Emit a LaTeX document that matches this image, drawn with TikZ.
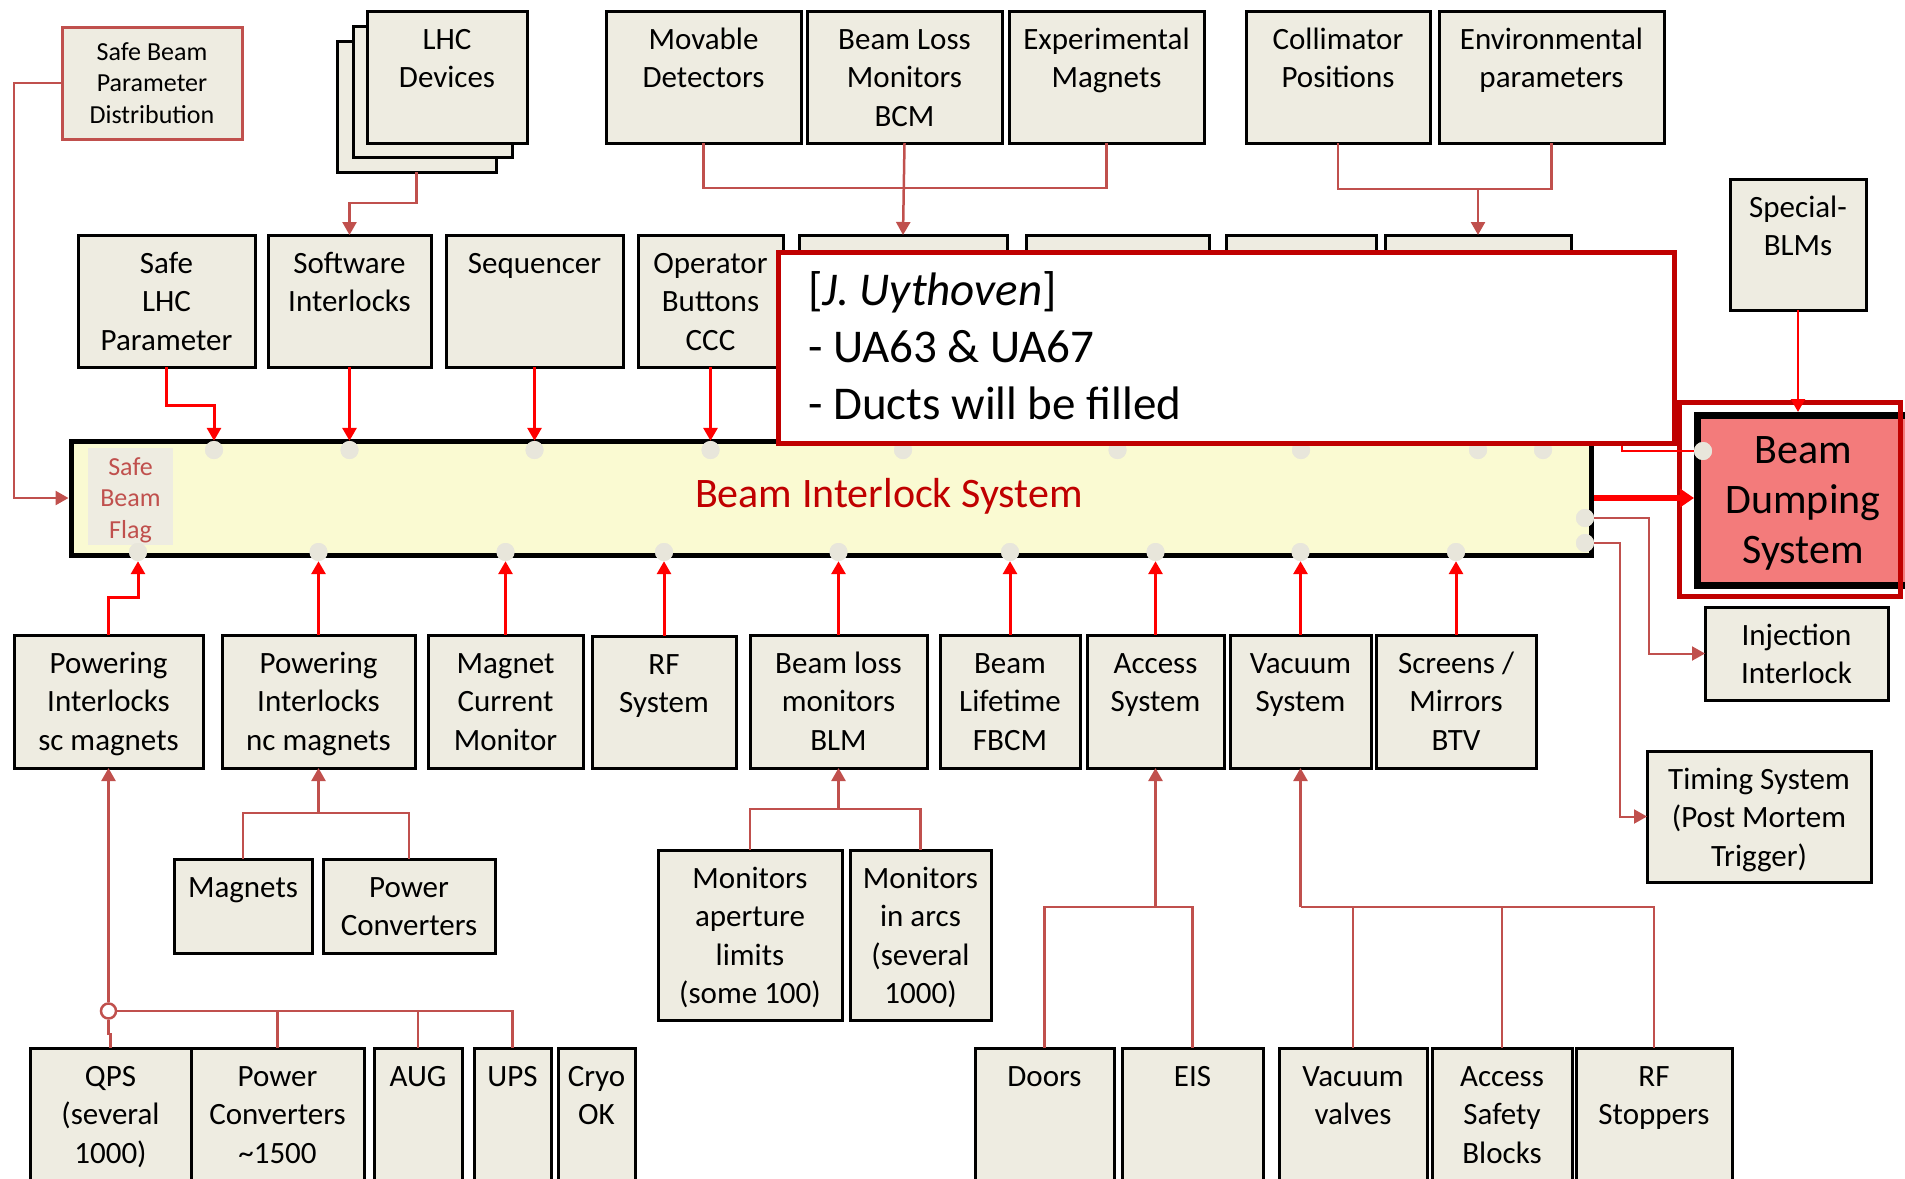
\documentclass[tikz,border=0pt]{standalone}
\usepackage{fontspec}
\setmainfont{Carlito}
\usetikzlibrary{arrows.meta,fit,calc}

\definecolor{boxfill}{HTML}{EEECE1}
\definecolor{linkred}{HTML}{C0504D}
\definecolor{hotred}{HTML}{FF0000}
\definecolor{darkred}{HTML}{C00000}
\definecolor{bisfill}{HTML}{FAFAD2}
\definecolor{bdsfill}{HTML}{F37B7B}
\definecolor{portgrey}{HTML}{E8E6DB}

\tikzset{
  blk/.style={draw=black, line width=3pt, fill=boxfill, inner sep=0pt, outer sep=0pt},
  lbl/.style={font=\fontsize{31}{38.5}\selectfont, align=center, anchor=north, inner sep=0pt},
  feed/.style={draw=linkred, line width=2.5pt},
  feedar/.style={feed, -{Triangle[length=13pt,width=14pt]}},
  sig/.style={draw=hotred, line width=3pt, -{Triangle[length=13pt,width=14pt]}},
  port/.style={circle, fill=portgrey, inner sep=0pt, minimum size=18pt},
}

% a filled block spanning (x1,y1)-(x2,y2) with its text set from the top
\newcommand\blockbox[7][]{%
  \node[blk, fit={(#3,#4)(#5,#6)}] (#2) {};
  \node[lbl,#1] at ([yshift=-11pt]#2.north) {\strut #7};}

\begin{document}
\begin{tikzpicture}[x=1pt, y=-1pt]
\useasboundingbox (0,0) rectangle (1905,1178);
\clip (0,0) rectangle (1905,1178);

% ---------- top row: information sources ----------
\node[blk, draw=linkred, fit={(62,27)(242,139)}] (sbpd) {};
\node[lbl, font=\fontsize{26}{31.5}\selectfont] at ([yshift=-11pt]sbpd.north)
  {\strut Safe Beam\\Parameter\\Distribution};

\node[blk, fit={(337,41)(496,172)}] (lhcc) {};
\node[blk, fit={(353,26)(512,157)}] (lhcb) {};
\blockbox{lhc}{367}{11}{527}{143}{LHC\\Devices}

\blockbox{movd}{606}{11}{801}{143}{Movable\\Detectors}
\blockbox{bcm}{807}{11}{1002}{143}{Beam Loss\\Monitors\\BCM}
\blockbox{expm}{1009}{11}{1204}{143}{Experimental\\Magnets}
\blockbox{coll}{1246}{11}{1430}{143}{Collimator\\Positions}
\blockbox{env}{1439}{11}{1664}{143}{Environmental\\parameters}

% ---------- second row: user systems above the BIS ----------
\blockbox{slp}{78}{235}{255}{367}{Safe\\LHC\\Parameter}
\blockbox{swi}{268}{235}{431}{367}{Software\\Interlocks}
\blockbox{seq}{446}{235}{623}{367}{Sequencer}
\blockbox{opb}{638}{235}{783}{367}{Operator\\Buttons\\CCC}
\node[blk, fit={(799,235)(1007,367)}] (hida) {};
\node[blk, fit={(1026,235)(1209,367)}] (hidb) {};
\node[blk, fit={(1226,235)(1376,367)}] (hidc) {};
\node[blk, fit={(1385,235)(1571,367)}] (hidd) {};
\blockbox{sblm}{1730}{179}{1866}{310}{Special-\\BLMs}

% ---------- third row: user systems below the BIS ----------
\blockbox{pisc}{14}{635}{203}{768}{Powering\\Interlocks\\sc magnets}
\blockbox{pinc}{222}{635}{415}{768}{Powering\\Interlocks\\nc magnets}
\blockbox{mcm}{428}{635}{583}{768}{Magnet\\Current\\Monitor}
\blockbox{rfs}{592}{636}{736}{768}{RF\\System}
\blockbox{blm}{750}{635}{927}{768}{Beam loss\\monitors\\BLM}
\blockbox{fbcm}{940}{635}{1080}{768}{Beam\\Lifetime\\FBCM}
\blockbox{acc}{1087}{635}{1224}{768}{Access\\System}
\blockbox{vac}{1230}{635}{1371}{768}{Vacuum\\System}
\blockbox{scr}{1376}{635}{1536}{768}{Screens /\\Mirrors\\BTV}

\blockbox{inj}{1705}{607}{1888}{700}{Injection\\Interlock}
\blockbox{tim}{1647}{751}{1871}{882}{Timing System\\(Post Mortem\\Trigger)}

% ---------- lower rows: contributing equipment ----------
\blockbox{mag}{174}{859}{312}{953}{Magnets}
\blockbox{pcv}{323}{859}{495}{953}{Power\\Converters}
\blockbox{mal}{658}{850}{842}{1020}{Monitors\\aperture\\limits\\(some 100)}
\blockbox{mia}{850}{850}{991}{1020}{Monitors\\in arcs\\(several\\1000)}

\blockbox{qps}{30}{1048}{191}{1200}{QPS\\(several\\1000)}
\blockbox{pc15}{191}{1048}{364}{1200}{Power\\Converters\\\textasciitilde1500}
\blockbox{aug}{374}{1048}{462}{1200}{AUG}
\blockbox{ups}{474}{1048}{551}{1200}{UPS}
\blockbox{cryo}{558}{1048}{635}{1200}{Cryo\\OK}
\blockbox{doors}{975}{1048}{1114}{1200}{Doors}
\blockbox{eis}{1122}{1048}{1263}{1200}{EIS}
\blockbox{vv}{1279}{1048}{1427}{1200}{Vacuum\\valves}
\blockbox{asb}{1432}{1048}{1572}{1200}{Access\\Safety\\Blocks}
\blockbox{rfst}{1576}{1048}{1732}{1200}{RF\\Stoppers}

% ---------- Beam Interlock System ----------
\node[draw=black, line width=5pt, fill=bisfill, inner sep=0pt, fit={(71,441)(1591,555)}] (bis) {};
\node[fill=boxfill, inner sep=0pt, fit={(88,448)(173,545)}] (sbf) {};
\node[lbl, font=\fontsize{26}{31.5}\selectfont, text=linkred] at ([yshift=-5pt]sbf.north)
  {\strut Safe\\Beam\\Flag};
\node[font=\fontsize{42}{50}\selectfont, text=darkred, anchor=base, inner sep=0pt] (bislbl)
  at (889,507) {Beam Interlock System};

% input ports along the top and bottom edges, output ports on the right
\node[port] (pt1) at (214,450) {};
\node[port] (pt2) at (swi.south |- 0,450) {};
\node[port] (pt3) at (seq.south |- 0,450) {};
\node[port] (pt4) at (opb.south |- 0,450) {};
\node[port] (pt5) at (hida.south |- 0,450) {};
\node[port] (pt6) at (hidb.south |- 0,450) {};
\node[port] (pt7) at (hidc.south |- 0,450) {};
\node[port] (pt8) at (hidd.south |- 0,450) {};
\node[port] (pt9) at (1543,450) {};
\node[port] (pb1) at (138,552) {};
\node[port] (pb2) at (pinc.north |- 0,552) {};
\node[port] (pb3) at (mcm.north |- 0,552) {};
\node[port] (pb4) at (rfs.north |- 0,552) {};
\node[port] (pb5) at (blm.north |- 0,552) {};
\node[port] (pb6) at (fbcm.north |- 0,552) {};
\node[port] (pb7) at (acc.north |- 0,552) {};
\node[port] (pb8) at (vac.north |- 0,552) {};
\node[port] (pb9) at (scr.north |- 0,552) {};
\node[port] (pr1) at (1585,518) {};
\node[port] (pr2) at (1585,543) {};

% user permits into the BIS
\draw[sig] (slp.south) -- ++(0,38) -| (pt1.north);
\draw[sig] (swi.south) -- (pt2.north);
\draw[sig] (seq.south) -- (pt3.north);
\draw[sig] (opb.south) -- (pt4.north);
\draw[sig] (hida.south) -- (pt5.north);
\draw[sig] (hidb.south) -- (pt6.north);
\draw[sig] (hidc.south) -- (pt7.north);
\draw[sig] (hidd.south) -- (pt8.north);
\draw[sig] (pisc.north) -- ++(0,-38) -| (pb1.south);
\draw[sig] (pinc.north) -- (pb2.south);
\draw[sig] (mcm.north) -- (pb3.south);
\draw[sig] (rfs.north) -- (pb4.south);
\draw[sig] (blm.north) -- (pb5.south);
\draw[sig] (fbcm.north) -- (pb6.south);
\draw[sig] (acc.north) -- (pb7.south);
\draw[sig] (vac.north) -- (pb8.south);
\draw[sig] (scr.north) -- (pb9.south);
\foreach \p in {pt1,pt2,pt3,pt4,pt5,pt6,pt7,pt8,pt9,pb1,pb2,pb3,pb4,pb5,pb6,pb7,pb8,pb9,pr1,pr2}
  \node[port] at (\p) {};

% feeders of the user systems
\draw[feedar] (sbpd.west) -- ++(-48,0) |- (bis.west);
\draw[feedar] (lhcc.south) -- ++(0,31) -| (swi.north);
\draw[feed] (movd.south) -- ++(0,45) -| (expm.south);
\draw[feedar] (bcm.south) -- (hida.north);
\draw[feed] (coll.south) -- ++(0,46) -| (env.south);
\coordinate (cjoin) at (hidd.north |- 0,189);
\draw[feedar] (cjoin) -- (hidd.north);

\coordinate (mjoin) at (pinc.south |- 0,813);
\draw[feed] (mag.north) -- ++(0,-46) -| (pcv.north);
\draw[feedar] (mjoin) -- (pinc.south);

\node[circle, draw=linkred, fill=white, line width=2.5pt, minimum size=15pt, inner sep=0pt]
  (qbus) at (pisc.south |- 0,1011) {};
\draw[feedar] (qbus.north) -- (pisc.south);
\draw[feed] (qbus.east) -| (ups.north);
\draw[feed] (pc15.north) -- (pc15.north |- qbus.east);
\draw[feed] (aug.north) -- (aug.north |- qbus.east);
\draw[feed] (qbus.south) -- ++(0,14) -| (qps.north);

\coordinate (bjoin) at (blm.south |- 0,809);
\draw[feed] (mal.north) -- ++(0,-41) -| (mia.north);
\draw[feedar] (bjoin) -- (blm.south);

\coordinate (ajoin) at (acc.south |- 0,907);
\draw[feed] (doors.north) -- ++(0,-141) -| (eis.north);
\draw[feedar] (ajoin) -- (acc.south);

\coordinate (vjoin) at (vac.south |- 0,907);
\draw[feedar] (vjoin) -- (vac.south);
\draw[feed] (vjoin) -| (rfst.north);
\draw[feed] (vv.north) -- (vv.north |- vjoin);
\draw[feed] (asb.north) -- (asb.north |- vjoin);

% outputs towards injection and timing
\draw[feedar, line width=2pt] (pr1.east) -- ++(55,0) |- (inj.west);
\draw[feedar, line width=2pt] (pr2.east) -- ++(26,0) |- (tim.west);

% ---------- Beam Dumping System ----------
\node[draw=black, line width=7pt, fill=bdsfill, inner sep=0pt, fit={(1697.5,415.5)(1915,585.5)}] (bds) {};
\node[draw=darkred, line width=5pt, inner sep=0pt, fit={(1679,402)(1900.5,596)}] (bdsframe) {};
\node[lbl, font=\fontsize{42}{50}\selectfont] (bdslbl) at (1803,428) {\strut Beam\\Dumping\\System};
\node[port] (bdsp) at (1703,451) {};
\coordinate (jog) at (1622,420);
\draw[hotred, line width=2pt] (pt9.north) |- (jog) |- (bdsp.west);
\node[port] at (bdsp) {};
\draw[sig, line width=2.5pt] (sblm.south) -- (sblm.south |- bds.north);

% ---------- note ----------
\node[draw=darkred, line width=5pt, fill=white, inner sep=0pt, fit={(778.5,252.5)(1674.5,443.5)}] (note) {};
\node[anchor=north west, align=left, inner sep=0pt, font=\fontsize{47}{57}\selectfont] (notetxt)
  at (808,265) {\strut[\textit{J. Uythoven}]\\- UA63 \& UA67\\- Ducts will be filled};

% main dump request
\draw[hotred, line width=6pt, -{Triangle[length=14pt,width=18pt]}] (bis.east) -- (bds.west |- bis.east);
\end{tikzpicture}
\end{document}
